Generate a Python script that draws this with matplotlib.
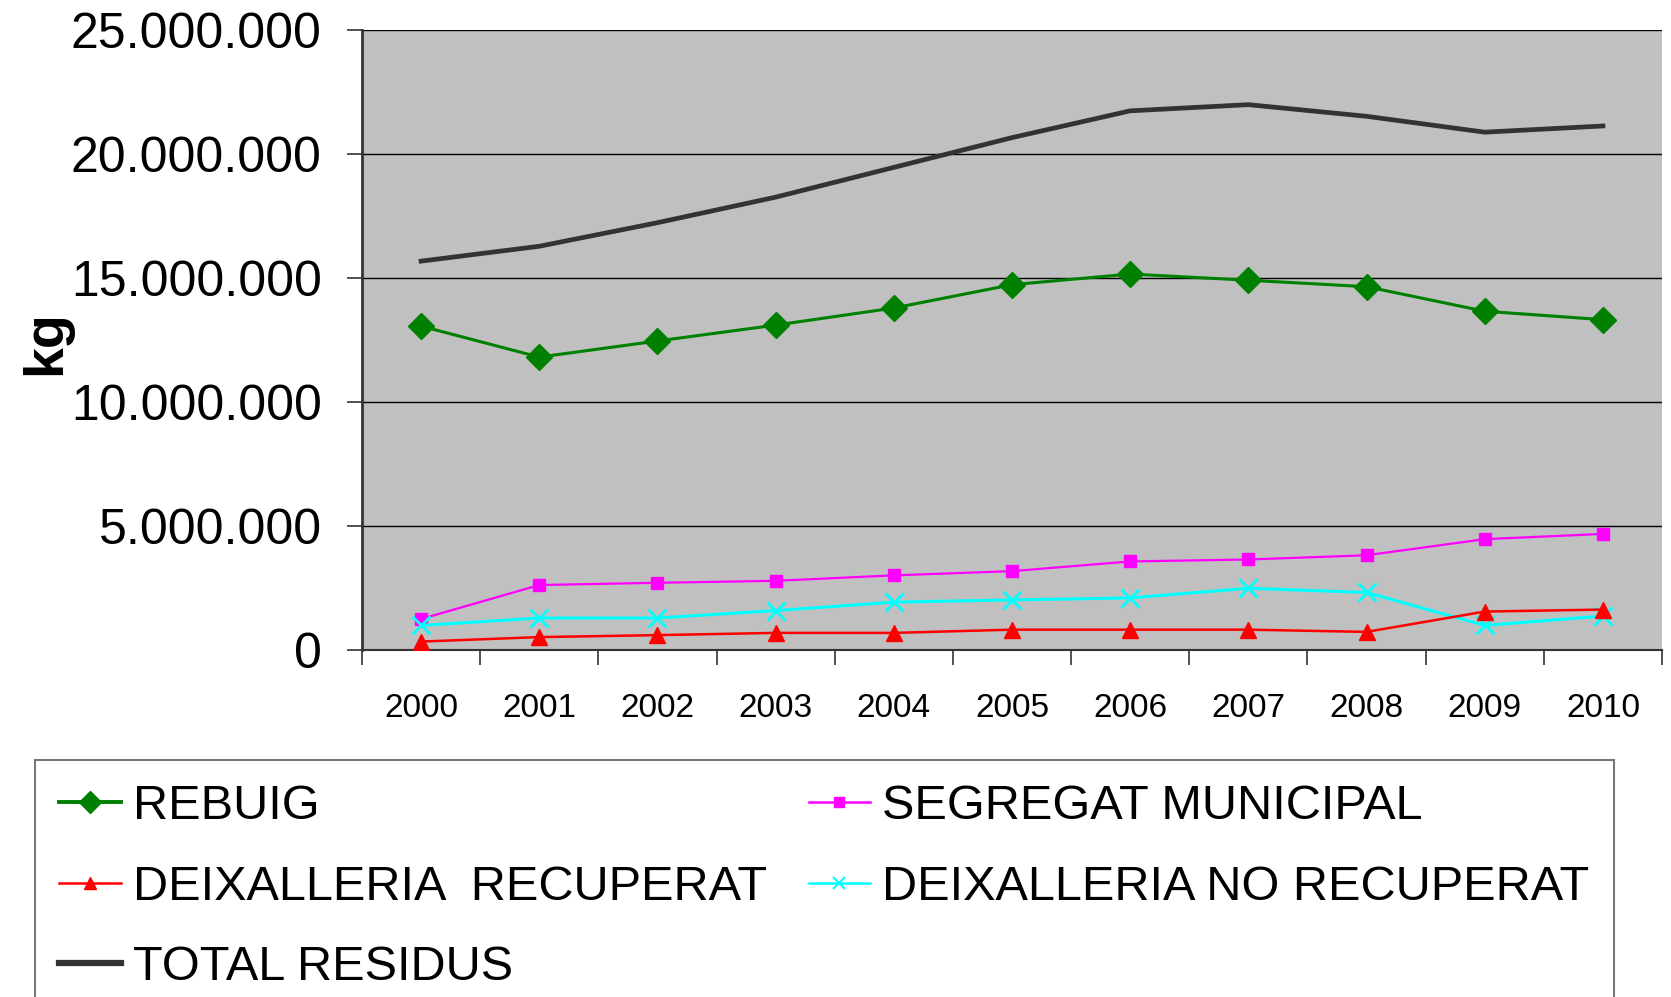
import matplotlib
matplotlib.use("Agg")
import matplotlib.pyplot as plt
from matplotlib.lines import Line2D
from matplotlib.ticker import FuncFormatter, MultipleLocator, FixedLocator
import numpy as np

years = ["2000", "2001", "2002", "2003", "2004", "2005", "2006", "2007", "2008", "2009", "2010"]
rebuig = [13.06, 11.81, 12.46, 13.10, 13.79, 14.73, 15.16, 14.91, 14.65, 13.66, 13.32]
segregat = [1.25, 2.62, 2.71, 2.79, 3.01, 3.18, 3.57, 3.65, 3.82, 4.47, 4.68]
deix_rec = [0.34, 0.52, 0.60, 0.69, 0.69, 0.82, 0.82, 0.82, 0.73, 1.55, 1.63]
deix_no_rec = [0.99, 1.29, 1.29, 1.59, 1.93, 2.02, 2.10, 2.49, 2.32, 0.99, 1.37]
total = [15.68, 16.28, 17.23, 18.26, 19.46, 20.66, 21.74, 21.99, 21.52, 20.88, 21.13]

labels = ["REBUIG", "SEGREGAT MUNICIPAL", "DEIXALLERIA  RECUPERAT",
          "DEIXALLERIA NO RECUPERAT", "TOTAL RESIDUS"]

NARROW = ["Liberation Sans", "DejaVu Sans"]
REG = ["Liberation Sans", "DejaVu Sans"]

W, H = 1671, 997
fig = plt.figure(figsize=(W / 100, H / 100), dpi=100)
ax = fig.add_axes([362 / W, 1 - 650 / H, 1300 / W, 620 / H])
ax.set_facecolor("#C0C0C0")

x = np.arange(len(years))
scale = 1e6
ax.plot(x, np.array(total) * scale, color="#333333", lw=3.4, zorder=3)
ax.plot(x, np.array(rebuig) * scale, color="#008000", lw=2.2, marker="D",
        markersize=13, zorder=4)
ax.plot(x, np.array(segregat) * scale, color="#FF00FF", lw=1.6, marker="s",
        markersize=9, zorder=4)
ax.plot(x, np.array(deix_no_rec) * scale, color="#00FFFF", lw=2.2, marker="x",
        markersize=13, mew=2, zorder=4)
ax.plot(x, np.array(deix_rec) * scale, color="#FF0000", lw=1.8, marker="^",
        markersize=11, zorder=4)

ax.set_xlim(-0.5, len(years) - 0.5)
ax.set_ylim(0, 25e6)
ax.yaxis.set_major_locator(MultipleLocator(5e6))


def fmt(v, pos):
    s = f"{int(round(v)):,}".replace(",", ".")
    return s


ax.yaxis.set_major_formatter(FuncFormatter(fmt))
ax.grid(axis="y", color="black", lw=1.0, zorder=1)
ax.set_axisbelow(True)

ax.set_xticks(x)
ax.set_xticklabels(years)
ax.xaxis.set_minor_locator(FixedLocator(np.arange(-0.5, len(years), 1.0)))
ax.tick_params(axis="x", which="major", length=0, pad=31)
ax.tick_params(axis="x", which="minor", length=11, width=1.2, color="#333333")
ax.tick_params(axis="y", which="major", length=11, width=1.2, color="#333333", pad=18)

for lab in ax.get_xticklabels():
    lab.set_fontfamily(NARROW)
    lab.set_fontsize(24)
for lab in ax.get_yticklabels():
    lab.set_fontfamily(NARROW)
    lab.set_fontsize(36)

for s in ["top", "right"]:
    ax.spines[s].set_visible(False)
ax.spines["left"].set_color("#333333")
ax.spines["left"].set_linewidth(2)
ax.spines["bottom"].set_color("#333333")
ax.spines["bottom"].set_linewidth(1.5)

fig.text(46 / W, 1 - 343 / H, "kg", rotation=90, ha="center", va="center",
         fontsize=40, fontweight="bold", family=REG)

h_reb = Line2D([], [], color="#008000", lw=2.8, marker="D", markersize=11)
h_seg = Line2D([], [], color="#FF00FF", lw=1.8, marker="s", markersize=7)
h_rec = Line2D([], [], color="#FF0000", lw=1.8, marker="^", markersize=8)
h_nrec = Line2D([], [], color="#00FFFF", lw=1.8, marker="x", markersize=9, mew=1.5)
h_tot = Line2D([], [], color="#333333", lw=4.5)

handles = [h_reb, h_rec, h_tot, h_seg, h_nrec]
labs = [labels[0], labels[2], labels[4], labels[1], labels[3]]
leg = fig.legend(handles, labs, ncol=2, loc="upper left",
                 bbox_to_anchor=(35 / W, 1 - 760 / H, (1614 - 35) / W, 0.0001),
                 mode="expand", frameon=True, fancybox=False,
                 prop={"family": NARROW, "size": 35},
                 handlelength=1.27, handletextpad=0.25, labelspacing=0.73,
                 borderpad=0.5, borderaxespad=0, columnspacing=1.0)
leg.get_frame().set_edgecolor("#555555")
leg.get_frame().set_linewidth(1.5)

fig.savefig("out.png", dpi=100)
